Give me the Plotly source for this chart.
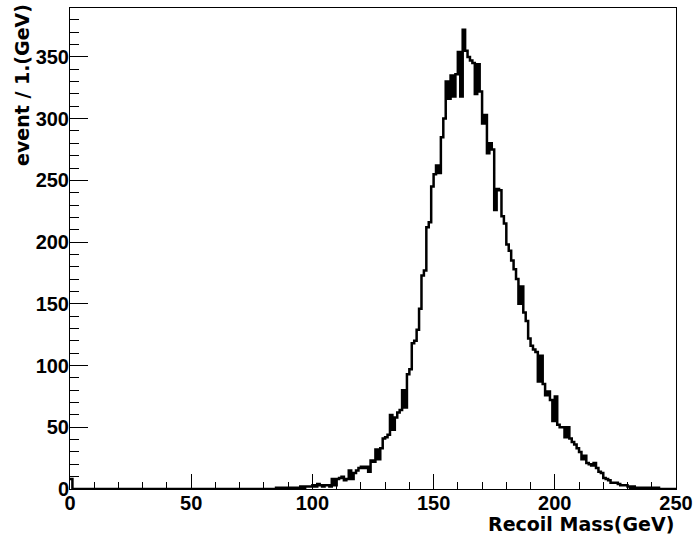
import numpy as np
import plotly.graph_objects as go

# Histogram: Recoil Mass, 1 GeV bins from 0 to 250
bin_low = 0
bin_width = 1
counts = [
    8, 0, 0, 0, 0, 0, 0, 0, 0, 0,          # 0-9
    0, 0, 0, 0, 0, 0, 0, 0, 0, 0,          # 10-19
    0, 0, 0, 0, 0, 0, 0, 0, 0, 0,          # 20-29
    0, 0, 0, 0, 0, 0, 0, 0, 0, 0,          # 30-39
    0, 0, 0, 0, 0, 0, 0, 0, 0, 0,          # 40-49
    0, 0, 0, 0, 0, 0, 0, 0, 0, 0,          # 50-59
    0, 0, 0, 0, 0, 0, 0, 0, 0, 0,          # 60-69
    0, 0, 0, 0, 0, 0, 0, 0, 0, 0,          # 70-79
    0, 0, 0, 0, 0, 1, 0, 1, 0, 1,          # 80-89
    1, 0, 1, 1, 1, 2, 1, 2, 2, 2,          # 90-99
    3, 2, 4, 3, 2, 3, 3, 2, 8, 3,          # 100-109
    8, 9, 10, 7, 8, 15, 8, 13, 15, 17,     # 110-119
    18, 17, 18, 14, 23, 22, 32, 24, 33, 41,   # 120-129
    42, 44, 60, 48, 58, 62, 64, 80, 66, 93,   # 130-139
    97, 118, 120, 129, 146, 173, 177, 212, 216, 245,  # 140-149
    255, 262, 256, 285, 300, 330, 316, 335, 318, 336,  # 150-159
    354, 318, 372, 355, 350, 347, 345, 320, 344, 322,  # 160-169
    296, 303, 272, 280, 275, 226, 243, 242, 221, 215,  # 170-179
    198, 193, 185, 178, 170, 150, 164, 143, 136, 122,  # 180-189
    116, 113, 111, 87, 108, 85, 76, 79, 72, 55,        # 190-199
    75, 52, 50, 50, 42, 50, 41, 38, 36, 33,            # 200-209
    30, 24, 27, 21, 20, 19, 21, 17, 14, 13,            # 210-219
    9, 8, 7, 5, 5, 5, 4, 3, 3, 3,                      # 220-229
    2, 1, 2, 1, 0, 1, 0, 1, 1, 0,                      # 230-239
    1, 0, 1, 0, 0, 0, 0, 0, 0, 0,                      # 240-249
]
x_title = "Recoil Mass(GeV)"
y_title = "event / 1.(GeV)"
x_range = [0, 250]
y_range = [0, 389.6]

edges = bin_low + bin_width * np.arange(len(counts) + 1)
step_y = counts + [counts[-1]]

fig = go.Figure()
fig.add_trace(go.Scatter(
    x=edges, y=step_y, mode="lines",
    line=dict(shape="hv", color="black", width=2.5),
    cliponaxis=False, showlegend=False, hoverinfo="skip",
))

tickfont = dict(family="Liberation Sans, Arial, sans-serif", size=20, color="black", weight="bold")
titlefont = dict(family="DejaVu Sans, sans-serif", size=19, color="black", weight="bold")

fig.update_xaxes(
    range=x_range, showgrid=False, zeroline=False, automargin=False,
    showline=True, linecolor="black", linewidth=1, mirror=True,
    ticks="inside", ticklen=15, tickwidth=1, tickcolor="black",
    tick0=0, dtick=50, tickfont=tickfont, ticklabeloverflow="allow",
    ticklabelstandoff=-4,
    minor=dict(ticks="inside", ticklen=7.5, tickwidth=1, tickcolor="black", dtick=10, tick0=0, showgrid=False),
)
fig.update_yaxes(
    range=y_range, showgrid=False, zeroline=False, automargin=False,
    showline=True, linecolor="black", linewidth=1, mirror=True,
    ticks="inside", ticklen=18, tickwidth=1, tickcolor="black",
    tick0=0, dtick=50, tickfont=tickfont, ticklabeloverflow="allow",
    ticklabelstandoff=-4,
    minor=dict(ticks="inside", ticklen=9, tickwidth=1, tickcolor="black", dtick=10, tick0=0, showgrid=False),
)

L, R, T, B = 70, 17, 8, 51
W, H = 693, 540
pw, ph = W - L - R, H - T - B

fig.add_annotation(
    text=y_title, textangle=-90, showarrow=False, font=titlefont,
    xref="paper", yref="paper", x=(22 - L) / pw, y=(H - B - 2) / ph,
    xanchor="center", yanchor="top",
)
fig.add_annotation(
    text=x_title, showarrow=False, font=titlefont,
    xref="paper", yref="paper", x=(676 - L) / pw, y=(H - B - 524) / ph,
    xanchor="right", yanchor="middle",
)

fig.update_layout(
    width=W, height=H,
    margin=dict(l=L, r=R, t=T, b=B, pad=0, autoexpand=False),
    plot_bgcolor="white", paper_bgcolor="white",
)

fig.write_html(
    "out.html",
    config={"displayModeBar": False},
    post_script="document.body.style.margin='0';document.body.style.padding='0';",
)
